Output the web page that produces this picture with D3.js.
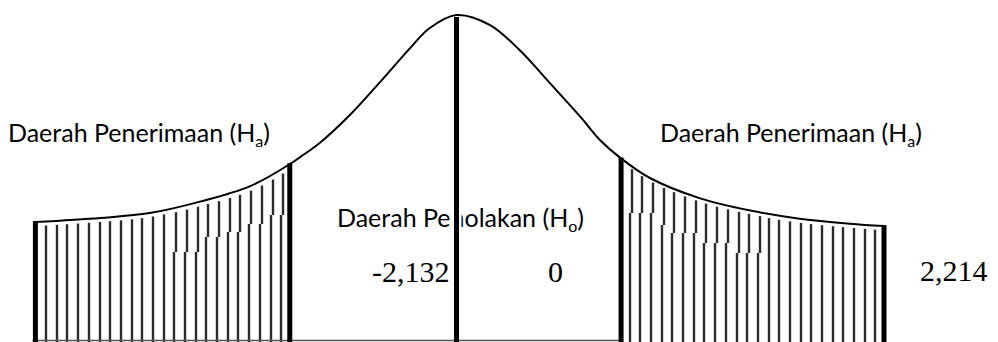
<!DOCTYPE html>
<html>
<head>
<meta charset="utf-8">
<script src="https://cdn.jsdelivr.net/npm/d3@7"></script>
<style>
  body { margin: 0; background: #fff; }
  svg { display: block; }
</style>
</head>
<body>
<div class="viz"></div>
<script>
// curve: z position and curve height
const curveZ = [-3.94, -3.33, -2.87, -2.40, -1.93, -1.56, -1.46, -1.28, -1.00, -0.72, -0.43, -0.25, 0,
  0.31, 0.59, 0.87, 1.16, 1.34, 1.53, 1.81, 2.28, 2.75, 3.21, 3.68, 4.00]
const curveH = [0.146, 0.151, 0.157, 0.171, 0.190, 0.217, 0.226, 0.243, 0.277, 0.317, 0.360, 0.384, 0.400,
  0.388, 0.357, 0.317, 0.275, 0.247, 0.225, 0.200, 0.175, 0.160, 0.150, 0.144, 0.141]

// region boundaries (thick lines) and hatch extents
const leftTail = [-3.94, -1.56]
const rightTail = [1.54, 4.00]
const centerZ = 0
const hatchLeft = [-3.84, -1.64]
const hatchRight = [1.62, 3.92]
const hatchStep = 0.1

const regionLabels = ['Daerah Penerimaan (H', 'Daerah Penolakan (H', 'Daerah Penerimaan (H']
const regionSubs = ['a', 'o', 'a']
const critLabels = ['-2,132', '0', '2,214']

const width = 998
const height = 342

const svg = d3.select('.viz')
  .append('svg')
    .attr('width', width)
    .attr('height', height)

const x = d3.scaleLinear().domain([-4, 4]).range([29, 884])
const y = d3.scaleLinear().domain([0, 0.4]).range([341, 15])

const curveData = curveZ.map((z, i) => ({ z, h: curveH[i] }))

const line = d3.line()
  .x(d => x(d.z))
  .y(d => y(d.h))
  .curve(d3.curveCatmullRom.alpha(0.5))

// draw the curve first so hatch tops can follow it
const curvePath = svg.append('path')
  .datum(curveData)
  .attr('d', line)
  .attr('fill', 'none')
  .attr('stroke', '#000')
  .attr('stroke-width', 2)

const node = curvePath.node()
const total = node.getTotalLength()
function curveYAt(px) {
  let lo = 0, hi = total
  for (let k = 0; k < 40; k++) {
    const mid = (lo + hi) / 2
    if (node.getPointAtLength(mid).x < px) lo = mid
    else hi = mid
  }
  return node.getPointAtLength(lo).y
}

// staircase breaks in the hatching (px ranges -> break y)
const stagger = [
  [172, 198, 252], [199, 223, 237], [224, 246, 232], [247, 266, 224], [267, 286, 215],
  [625, 653, 213], [654, 671, 225], [672, 700, 233], [701, 732, 243], [733, 762, 253]
]
function breakAt(px) {
  const s = stagger.find(d => px >= d[0] && px <= d[1])
  return s ? s[2] : null
}

const hatchZ = d3.range(hatchLeft[0], hatchLeft[1] + 0.001, hatchStep)
  .concat(d3.range(hatchRight[0], hatchRight[1] + 0.001, hatchStep))

const segs = []
hatchZ.forEach(z => {
  const px = Math.round(x(z))
  const top = curveYAt(px) + 4
  const b = breakAt(px)
  if (b && b > top) {
    segs.push({ x: px + 2, y1: top, y2: b })
    segs.push({ x: px, y1: b, y2: height })
  } else {
    segs.push({ x: px, y1: top, y2: height })
  }
})

const hatch = svg.insert('g', 'path')
hatch.selectAll('line')
  .data(segs).enter().append('line')
  .attr('x1', d => d.x)
  .attr('x2', d => d.x)
  .attr('y1', d => d.y1)
  .attr('y2', d => d.y2)
  .attr('stroke', '#2b2b2b')
  .attr('stroke-width', 2.4)

// baseline under the left and middle parts
svg.append('line')
  .attr('x1', x(leftTail[0]) - 3)
  .attr('x2', x(rightTail[0]))
  .attr('y1', y(0) - 0.5)
  .attr('y2', y(0) - 0.5)
  .attr('stroke', '#555')
  .attr('stroke-width', 1.5)

// region labels
const labelPos = [[8, 142], [337, 227], [660, 142]]
const labels = svg.append('g')
  .selectAll('text')
  .data(regionLabels).enter().append('text')
  .attr('x', (d, i) => labelPos[i][0])
  .attr('y', (d, i) => labelPos[i][1])
  .attr('font-family', 'Lato, "Open Sans", sans-serif')
  .attr('font-size', 25)
  .attr('fill', '#000')
labels.append('tspan').text(d => d)
labels.append('tspan')
  .text((d, i) => regionSubs[i])
  .attr('font-size', 16)
  .attr('dy', 5)
labels.append('tspan')
  .text(')')
  .attr('dy', -5)

// white gap where the centre line crosses the middle label
svg.append('rect')
  .attr('x', x(centerZ) - 5)
  .attr('y', 203)
  .attr('width', 10)
  .attr('height', 30)
  .attr('fill', '#fff')

// thick boundary lines
const bounds = [leftTail[0], leftTail[1], rightTail[0], rightTail[1]]
svg.append('g')
  .selectAll('line')
  .data(bounds).enter().append('line')
  .attr('x1', d => x(d))
  .attr('x2', d => x(d))
  .attr('y1', d => curveYAt(x(d)) - 1)
  .attr('y2', height)
  .attr('stroke', '#000')
  .attr('stroke-width', 5)

svg.append('line')
  .attr('x1', x(centerZ))
  .attr('x2', x(centerZ))
  .attr('y1', y(0.4) + 2)
  .attr('y2', height)
  .attr('stroke', '#000')
  .attr('stroke-width', 5)

// critical values
const critPos = [[372, 282], [548, 282], [920, 281]]
svg.append('g')
  .selectAll('text')
  .data(critLabels).enter().append('text')
  .text(d => d)
  .attr('x', (d, i) => critPos[i][0])
  .attr('y', (d, i) => critPos[i][1])
  .attr('font-family', '"Liberation Serif", "Times New Roman", serif')
  .attr('font-size', 30)
  .attr('fill', '#000')
</script>
</body>
</html>
